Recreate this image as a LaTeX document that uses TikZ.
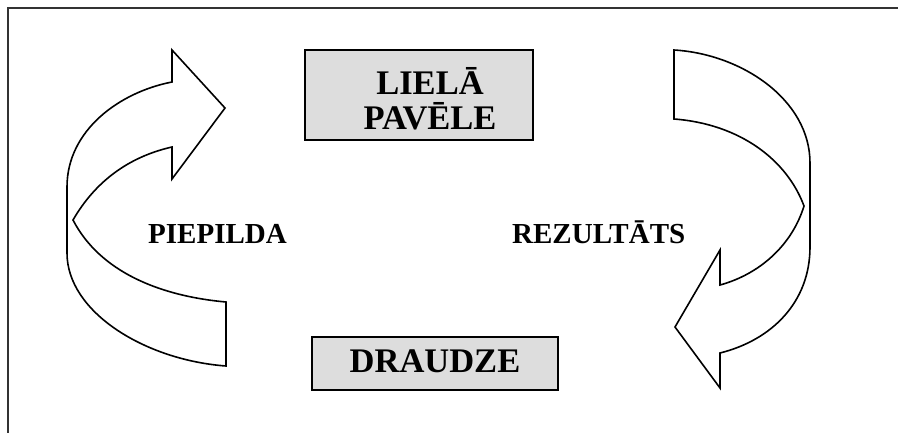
\documentclass[tikz,border=0pt]{standalone}
\usepackage{fontspec}
\setmainfont{Liberation Serif}
\begin{document}
\begin{tikzpicture}[x=1pt,y=-1pt,
  boxshape/.style={draw=black,line width=1.7pt,fill=boxgray,rectangle,inner sep=0pt},
  bigtxt/.style={font=\fontsize{34.5}{38}\selectfont\bfseries,anchor=base,inner sep=0pt},
  sidetxt/.style={font=\fontsize{29}{33}\selectfont\bfseries,anchor=base west,inner sep=0pt},
  arrowshape/.style={draw=black,line width=1.6pt,fill=white,line join=miter}]
\definecolor{boxgray}{HTML}{DDDDDD}
\useasboundingbox (0,0) rectangle (898,432);
\clip (0,0) rectangle (898,432);
\fill[white] (0,0) rectangle (898,432);
% frame
\draw[line width=1.9pt,black!80] (8,440) -- (8,8) -- (906,8);
% boxes
\node[boxshape,minimum width=228pt,minimum height=90pt] (topbox) at (419,95) {};
\node[bigtxt] (t1) at (430,94) {LIELĀ};
\node[bigtxt] (t2) at (430,129) {PAVĒLE};
\node[boxshape,minimum width=246pt,minimum height=53pt] (botbox) at (435,363.5) {};
\node[bigtxt] (t3) at (435,372) {DRAUDZE};
% side labels
\node[sidetxt] (piep) at (148,243) {PIEPILDA};
\node[sidetxt] (rez) at (512,243) {REZULTĀTS};
% left curved arrow
\draw[arrowshape] (226,366) -- (226,302)
  .. controls (160,296) and (100,272) .. (73,220)
  .. controls (95,182) and (128,157) .. (172,147)
  -- (172,179) -- (225,108) -- (172,50) -- (172,82)
  .. controls (120,92) and (67,130) .. (67,187)
  -- (67,253)
  .. controls (67,312) and (145,360) .. (226,366) -- cycle;
% right curved arrow
\draw[arrowshape] (674,50) -- (674,119)
  .. controls (740,124) and (787,160) .. (804,206)
  .. controls (792,245) and (760,274) .. (720,285)
  -- (720,250) -- (675,327) -- (720,388) -- (720,353)
  .. controls (772,340) and (810,302) .. (810,247)
  -- (810,163)
  .. controls (810,100) and (742,54) .. (674,50) -- cycle;
\end{tikzpicture}
\end{document}
